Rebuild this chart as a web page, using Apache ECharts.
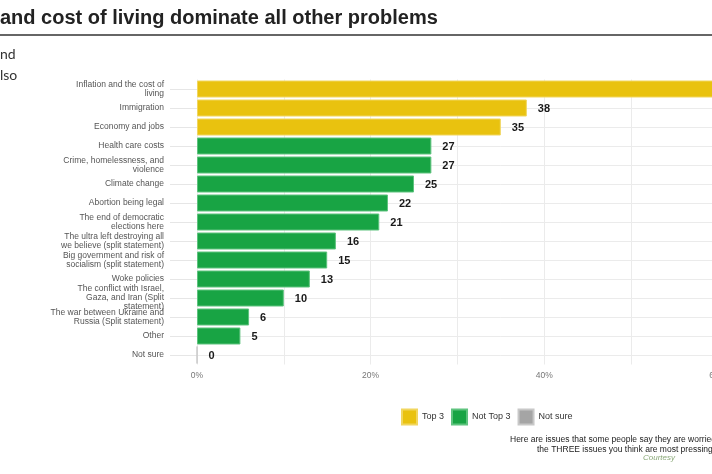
<!DOCTYPE html>
<html>
<head>
<meta charset="utf-8">
<script src="https://cdn.jsdelivr.net/npm/echarts@6/dist/echarts.min.js"></script>
<style>
html,body{margin:0;padding:0;width:712px;height:474px;overflow:hidden;background:#fff;}
#c{position:absolute;left:0;top:0;width:900px;height:474px;}
</style>
</head>
<body>
<div id="c"></div>
<script>
const categories = [
  "Inflation and the cost of\nliving",
  "Immigration",
  "Economy and jobs",
  "Health care costs",
  "Crime, homelessness, and\nviolence",
  "Climate change",
  "Abortion being legal",
  "The end of democratic\nelections here",
  "The ultra left destroying all\nwe believe (split statement)",
  "Big government and risk of\nsocialism (split statement)",
  "Woke policies",
  "The conflict with Israel,\nGaza, and Iran (Split\nstatement)",
  "The war between Ukraine and\nRussia (Split statement)",
  "Other",
  "Not sure"
];
const top3 = [64, 38, 35, null, null, null, null, null, null, null, null, null, null, null, null];
const notTop3 = [null, null, null, 27, 27, 25, 22, 21, 16, 15, 13, 10, 6, 5, null];
const notSure = [null, null, null, null, null, null, null, null, null, null, null, null, null, null, 0];
const xTicks = [0, 20, 40, 60];
const seriesNames = ["Top 3", "Not Top 3", "Not sure"];
const titleText = "and cost of living dominate all other problems";
const introFragments = ["nd", "lso"];
const captionLines = [
  "Here are issues that some people say they are worried about.",
  "the THREE issues you think are most pressing."
];
const courtesy = "Courtesy";

const chart = echarts.init(document.getElementById('c'), null, {renderer: 'canvas'});
const colors = ['#E9C20F', '#18A444', '#A5A5A5'];
const borders = ['#F1D65E', '#5EC37E', '#C8C8C8'];
const labelCfg = {
  show: true, position: 'right', distance: 11, offset: [0, 1],
  fontFamily: 'Liberation Sans, Arial, sans-serif', fontWeight: 'bold', fontSize: 11, color: '#1a1a1a',
  formatter: p => p.value
};
function mkSeries(i, data) {
  return {
    name: seriesNames[i], type: 'bar', data: data, barWidth: 17, barGap: '-100%',
    itemStyle: {color: colors[i], borderColor: borders[i], borderWidth: 1},
    label: labelCfg, animation: false
  };
}
chart.setOption({
  animation: false,
  grid: {left: 197, top: 79.5, height: 285, width: 607.6},
  xAxis: {
    type: 'value', min: 0, max: 70, interval: 10,
    axisLine: {show: false}, axisTick: {show: false},
    axisLabel: {
      color: '#777', fontSize: 8.5, fontFamily: 'Liberation Sans, Arial, sans-serif', margin: 7,
      formatter: v => xTicks.includes(v) ? v + '%' : ''
    },
    splitLine: {lineStyle: {color: '#ebebeb', width: 1}}
  },
  yAxis: {
    type: 'category', data: categories, inverse: true,
    axisLine: {show: false},
    axisTick: {show: true, alignWithLabel: true, length: 27, lineStyle: {color: '#e6e6e6'}},
    splitLine: {show: true, alignWithLabel: true, lineStyle: {color: '#ebebeb'}},
    axisLabel: {
      color: '#555', fontSize: 8.5, lineHeight: 9, margin: 33,
      fontFamily: 'Liberation Sans, Arial, sans-serif', align: 'right'
    }
  },
  legend: {
    left: 401, top: 408.5, padding: 0, itemWidth: 15, itemHeight: 15, itemGap: 7, icon: 'rect',
    data: seriesNames,
    textStyle: {fontSize: 9, color: '#333', fontFamily: 'Liberation Sans, Arial, sans-serif'}
  },
  series: [mkSeries(0, top3), mkSeries(1, notTop3), mkSeries(2, notSure)],
  graphic: [
    {type: 'text', left: 0, top: 8, style: {text: titleText, font: 'bold 20px "Liberation Sans", Arial, sans-serif', fill: '#222'}},
    {type: 'line', shape: {x1: 0, y1: 35, x2: 900, y2: 35}, style: {stroke: '#333', lineWidth: 1.5}},
    {type: 'text', left: 0, top: 47, style: {text: introFragments[0], font: '400 14px Lato, sans-serif', fill: '#333'}},
    {type: 'text', left: 0, top: 68, style: {text: introFragments[1], font: '400 14px Lato, sans-serif', fill: '#333'}},
    {type: 'text', left: 510, top: 435, style: {text: captionLines[0], font: '8.5px "Liberation Sans", Arial, sans-serif', fill: '#222'}},
    {type: 'text', left: 537, top: 445, style: {text: captionLines[1], font: '8.5px "Liberation Sans", Arial, sans-serif', fill: '#222'}},
    {type: 'text', left: 643, top: 454, style: {text: courtesy, font: 'italic 8px "Liberation Sans", Arial, sans-serif', fill: '#8aa878'}}
  ]
});
</script>
</body>
</html>
